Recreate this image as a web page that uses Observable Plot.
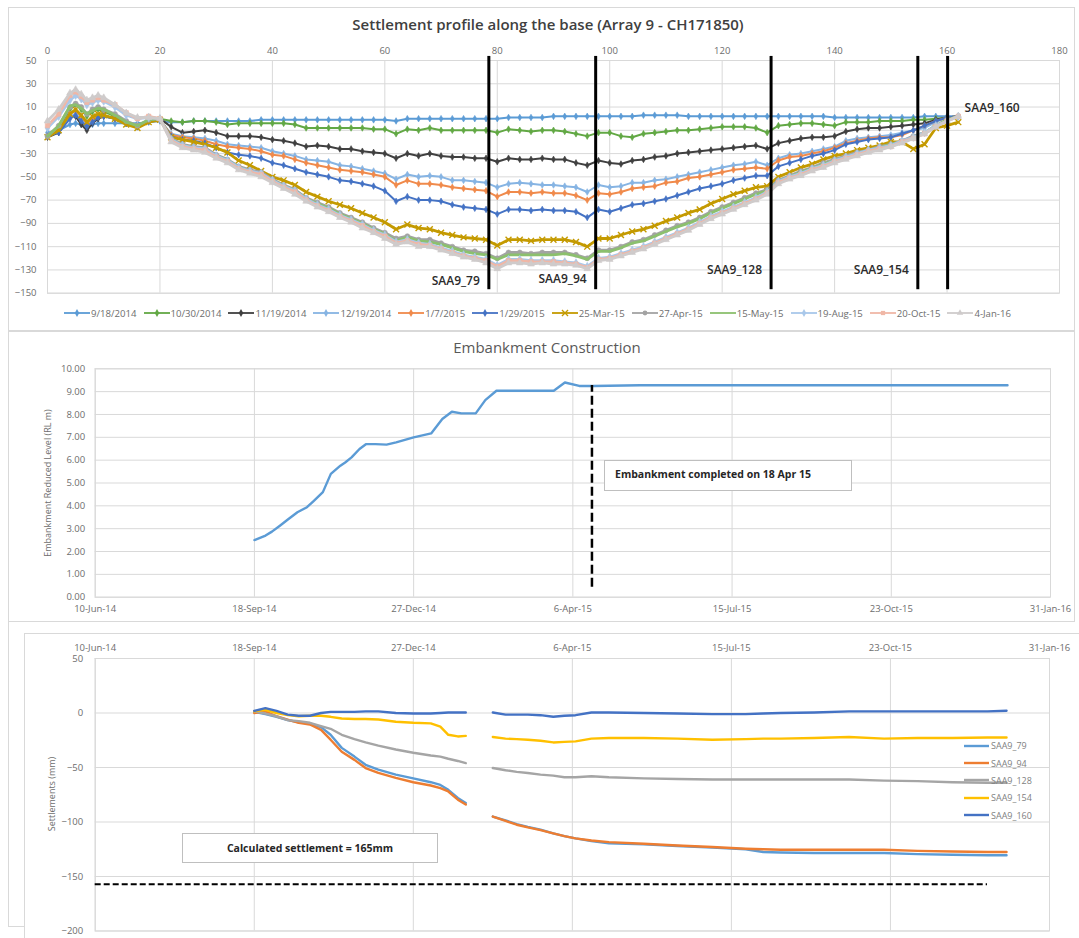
<!DOCTYPE html>
<html><head><meta charset="utf-8">
<script src="https://cdn.jsdelivr.net/npm/d3@7"></script>
<script src="https://cdn.jsdelivr.net/npm/@observablehq/plot@0.6"></script>
<style>
body{margin:0;background:#fff;}
#root{position:relative;width:1079px;height:938px;overflow:hidden;background:#fff;font-family:'Open Sans',sans-serif;}
.abs{position:absolute;}
.box{position:absolute;border:1px solid #d9d9d9;box-sizing:border-box;}
.ttl{position:absolute;text-align:center;white-space:nowrap;}
.ytitle{position:absolute;width:220px;height:12px;line-height:12px;font-size:9px;color:#6d6d6d;text-align:center;transform:rotate(-90deg);white-space:nowrap;}
.note{position:absolute;background:#fff;border:1px solid #bfbfbf;box-sizing:border-box;font-weight:700;color:#262626;white-space:nowrap;}
.leg{position:absolute;display:flex;align-items:center;font-size:9.6px;color:#6d6d6d;white-space:nowrap;}
.leg span{margin-left:1px;}
</style></head>
<body><div id="root">
<div class="box" style="left:8px;top:7px;width:1067px;height:324px"></div>
<div class="box" style="left:8px;top:331px;width:1067px;height:291px"></div>
<div class="abs" style="left:8px;top:622px;width:17px;height:305px;border-left:1px solid #d9d9d9;border-bottom:1px solid #d9d9d9;box-sizing:border-box"></div>
<div class="box" style="left:24px;top:633px;width:1070px;height:320px"></div>
<div id="p1" class="abs" style="left:0;top:0"></div>
<div id="p2" class="abs" style="left:0;top:330px"></div>
<div id="p3" class="abs" style="left:0;top:620px"></div>
<div class="ttl" style="left:248px;top:14px;width:600px;font-size:15px;font-weight:600;color:#404040">Settlement profile along the base (Array 9 - CH171850)</div>
<div id="leg1" class="leg" style="left:0;top:306px;width:1075px;height:14px;justify-content:center;gap:7px"></div>
<div class="ttl" style="left:247px;top:337px;width:600px;font-size:15px;color:#595959">Embankment Construction</div>
<div class="ytitle" style="left:-62px;top:477px">Embankment Reduced Level (RL m)</div>
<div class="note" style="left:604px;top:460px;width:248px;height:31px;font-size:10.5px;line-height:26px;padding-left:10px">Embankment completed on 18 Apr 15</div>
<div class="ytitle" style="left:-58px;top:788px">Settlements (mm)</div>
<div class="note" style="left:182px;top:833px;width:256px;height:30px;font-size:10.5px;line-height:28px;text-align:center">Calculated settlement = 165mm</div>
<div id="leg3" class="abs" style="left:964px;top:737px;width:110px"></div>
</div>
<script>
// ---------------- DATA ----------------
// Panel 1: settlement profile along the base (distance, mm)
const profileX = [0,2,4,5,6,7,8,9,10,12,14,16,18,20,22,24,26,28,30,32,34,36,38,40,42,44,46,48,50,52,54,56,58,60,62,64,66,68,70,72,74,76,78,80,82,84,86,88,90,92,94,96,98,100,102,104,106,108,110,112,114,116,118,120,122,124,126,128,130,132,134,136,138,140,142,144,146,148,150,152,154,156,158,160,162];
const p20140918 = [-12,-10,-5,-4,-5,-6,-5,-4,-4,-4,-4,-4,-3,-2,
 -3,-3,-2,-2,-2,-2,-2,-2,-1,-1, -1,-1,-1,-1,-1,-1,-1,-1,-1,-1, -2,0,0,0,0,0,0,0,0,0,
 1,1,1,1,2,2,2,2,2,2, 2,2,3,3,3,3,2,2,2,2, 2,2,2,2,2,2,2,2,2,1, 1,1,1,1,1,1,1,2,2,2, 2];
const p20141030 = [-15,-8,8,12,8,2,6,8,6,2,-4,-6,-2,0,
 -2,-3,-2,-2,-3,-5,-4,-4,-4,-4, -4,-5,-8,-8,-8,-8,-8,-8,-9,-9, -13,-9,-10,-8,-10,-10,-10,-10,-10,-12,
 -9,-10,-11,-10,-10,-11,-13,-15,-12,-12, -15,-16,-13,-12,-11,-10,-10,-9,-8,-7, -7,-7,-8,-12,-6,-5,-4,-4,-5,-6,
 -3,-3,-3,-2,-2,-2,-1,-1,0,1, 2];
const p20141119 = [-16,-12,2,2,-5,-10,-4,0,2,0,-4,-7,-2,0,
 -7,-12,-11,-10,-12,-15,-15,-15,-16,-18, -19,-21,-24,-23,-24,-26,-26,-28,-29,-30, -34,-30,-32,-30,-32,-33,-33,-34,-34,-37,
 -34,-35,-35,-34,-35,-35,-38,-40,-36,-38, -39,-36,-35,-33,-32,-30,-29,-28,-27,-26, -25,-24,-23,-26,-21,-19,-17,-16,-16,-15,
 -11,-9,-8,-8,-7,-6,-5,-4,-1,1, 2];
const p20141219 = [-14,-10,2,4,0,-5,-2,2,3,0,-4,-6,-2,-1,
 -13,-15,-16,-17,-19,-22,-23,-24,-25,-28, -30,-32,-35,-36,-37,-40,-41,-43,-45,-47, -52,-48,-50,-49,-50,-53,-53,-54,-55,-59,
 -56,-55,-56,-57,-57,-58,-59,-63,-57,-59, -58,-55,-55,-53,-52,-50,-48,-46,-44,-42, -40,-39,-37,-40,-34,-31,-30,-28,-26,-24,
 -19,-17,-16,-15,-14,-12,-10,-8,-3,1, 2];
const p20150107 = [-15,-10,4,7,2,-4,0,3,3,0,-4,-6,-2,-1,
 -14,-16,-17,-19,-22,-24,-25,-26,-28,-31, -32,-35,-38,-40,-42,-44,-45,-46,-48,-50, -57,-53,-56,-56,-57,-59,-60,-61,-62,-67,
 -63,-63,-64,-63,-64,-64,-66,-70,-64,-65, -63,-60,-59,-58,-55,-54,-51,-50,-48,-46, -44,-43,-42,-43,-36,-33,-32,-30,-28,-25,
 -21,-19,-17,-16,-16,-14,-10,-6,-2,1, 2];
const p20150129 = [-15,-12,0,3,-2,-7,-3,1,2,0,-4,-7,-2,-1,
 -15,-18,-19,-21,-25,-29,-31,-32,-34,-38, -40,-43,-46,-48,-50,-53,-54,-56,-58,-62, -71,-67,-70,-70,-71,-74,-76,-77,-78,-82,
 -78,-78,-79,-78,-79,-79,-80,-85,-78,-80, -77,-74,-73,-71,-69,-66,-63,-60,-58,-56, -53,-51,-49,-49,-41,-38,-35,-32,-30,-27,
 -22,-20,-18,-17,-16,-13,-10,-6,-2,1, 2];
const p20150325 = [-16,-10,4,8,3,-3,2,4,3,0,-5,-8,-3,-1,
 -16,-18,-20,-22,-25,-29,-36,-40,-45,-50, -53,-57,-63,-67,-71,-74,-77,-81,-85,-89, -95,-91,-94,-95,-98,-100,-102,-103,-104,-109,
 -104,-104,-105,-104,-104,-104,-106,-110,-103,-103, -100,-97,-95,-92,-88,-85,-81,-78,-73,-69, -65,-62,-59,-58,-50,-46,-42,-39,-35,-32,
 -30,-27,-25,-23,-20,-20,-26,-22,-8,-6, -3];
const p20150427 = [-15,-6,10,13,10,4,8,10,8,4,-2,-6,-1,0,
 -17,-22,-24,-25,-31,-35,-41,-44,-46,-52, -57,-61,-68,-72,-76,-81,-85,-89,-94,-98, -103,-101,-104,-104,-107,-110,-113,-114,-116,-120,
 -115,-115,-116,-115,-115,-115,-117,-120,-113,-113, -110,-106,-104,-100,-96,-92,-89,-85,-80,-76, -72,-68,-64,-61,-53,-49,-45,-42,-38,-35,
 -32,-29,-27,-24,-22,-19,-15,-12,-6,-1, 2];
const p20150515 = [-15,-6,11,12,9,4,7,9,8,3,-3,-6,-1,0,
 -18,-23,-25,-27,-32,-36,-42,-45,-48,-53, -58,-62,-69,-73,-77,-82,-86,-90,-95,-99, -105,-102,-105,-106,-108,-111,-114,-116,-117,-121,
 -117,-117,-117,-117,-117,-116,-118,-121,-114,-114, -111,-107,-105,-101,-97,-93,-90,-86,-81,-77, -73,-69,-65,-62,-54,-50,-46,-43,-39,-36,
 -33,-30,-27,-25,-22,-20,-16,-12,-6,-1, 2];
const p20150819 = [-8,2,16,20,17,12,14,16,15,10,3,0,1,0,
 -18,-23,-25,-26,-32,-36,-42,-45,-47,-53, -58,-62,-69,-74,-78,-83,-87,-91,-96,-100, -106,-104,-107,-108,-111,-114,-117,-119,-121,-126,
 -121,-121,-122,-122,-122,-123,-124,-127,-120,-119, -116,-113,-110,-106,-102,-98,-94,-89,-84,-80, -76,-72,-68,-63,-54,-50,-47,-43,-40,-36,
 -33,-30,-27,-25,-23,-19,-16,-12,-6,-2, 2];
const p20151020 = [-6,4,20,23,19,14,16,18,16,12,5,0,2,0,
 -19,-24,-26,-27,-33,-37,-43,-46,-48,-54, -59,-63,-70,-75,-79,-84,-88,-92,-97,-101, -107,-105,-108,-109,-112,-115,-118,-120,-122,-127,
 -122,-122,-123,-123,-123,-124,-125,-128,-121,-120, -117,-114,-111,-107,-103,-99,-95,-90,-85,-81, -77,-73,-69,-64,-55,-51,-48,-44,-41,-37,
 -34,-31,-28,-26,-24,-20,-17,-13,-7,-2, 2];
const p20160104 = [-2,8,22,25,21,16,18,20,18,12,5,1,1,0,
 -20,-25,-27,-29,-34,-38,-44,-47,-50,-55, -60,-65,-71,-76,-80,-85,-89,-94,-98,-103, -108,-106,-110,-110,-113,-116,-119,-121,-124,-129,
 -124,-124,-125,-124,-125,-125,-126,-129,-122,-121, -118,-115,-112,-108,-104,-100,-96,-91,-86,-82, -78,-74,-70,-65,-56,-52,-49,-45,-42,-38,
 -35,-32,-29,-27,-24,-21,-17,-13,-7,-2, 2];
const profileSeries = ["9/18/2014","10/30/2014","11/19/2014","12/19/2014","1/7/2015","1/29/2015","25-Mar-15","27-Apr-15","15-May-15","19-Aug-15","20-Oct-15","4-Jan-16"];
const profileTicksX = [0,20,40,60,80,100,120,140,160,180];
const profileTicksY = [-150,-130,-110,-90,-70,-50,-30,-10,10,30,50];
const sensorNames = ["SAA9_79","SAA9_94","SAA9_128","SAA9_154","SAA9_160"];
const sensorX = [78.5,97.5,128.7,154.8,160.1];

// Panel 2: embankment construction (date, RL m)
const embDates = ["2014-09-18","2014-09-25","2014-09-29","2014-10-04","2014-10-09","2014-10-15","2014-10-21","2014-10-25","2014-10-31","2014-11-05","2014-11-11","2014-11-14","2014-11-18","2014-11-23","2014-11-27","2014-12-03","2014-12-10","2014-12-16","2014-12-27","2015-01-07","2015-01-14","2015-01-20","2015-01-26","2015-02-04","2015-02-10","2015-02-17","2015-02-26","2015-03-15","2015-03-25","2015-04-01","2015-04-10","2015-04-19","2015-05-18","2016-01-04"];
const embLevel = [2.5,2.7,2.87,3.13,3.4,3.72,3.94,4.2,4.6,5.4,5.76,5.9,6.12,6.49,6.7,6.7,6.68,6.78,7.0,7.17,7.8,8.12,8.05,8.05,8.63,9.04,9.04,9.04,9.04,9.4,9.25,9.25,9.28,9.28];
const completionDate = "2015-04-18";
const dateTicks = ["2014-06-10","2014-09-18","2014-12-27","2015-04-06","2015-07-15","2015-10-23","2016-01-31"];
const levelTicks = [0,1,2,3,4,5,6,7,8,9,10];

// Panel 3: settlements at sensors (date, mm); null = no reading
const settleDates = ["2014-09-18","2014-09-25","2014-10-02","2014-10-09","2014-10-16","2014-10-23","2014-10-30","2014-11-05","2014-11-12","2014-11-20","2014-11-27","2014-12-05","2014-12-16","2014-12-27","2015-01-07","2015-01-13","2015-01-18","2015-01-24","2015-01-29","2015-02-07","2015-02-15","2015-02-23","2015-03-02","2015-03-09","2015-03-17","2015-03-25","2015-04-01","2015-04-08","2015-04-18","2015-04-29","2015-05-21","2015-06-11","2015-07-03","2015-07-24","2015-08-04","2015-08-15","2015-09-05","2015-09-27","2015-10-19","2015-11-09","2015-12-01","2015-12-23","2016-01-04"];
const saa79 = [1,-1,-3.5,-6.5,-8.5,-9.5,-13,-20,-32,-40,-47.5,-52,-56.5,-60,-63.5,-66,-70.5,-78,-82.5,null,-95,-98.5,-102,-104.5,-107,-110.5,-113,-115,-117.5,-119.5,-120.5,-122,-123.5,-125,-127.5,-128,-128.5,-128.5,-128.5,-129.5,-130,-130.5,-130.5];
const saa94 = [0,1.5,-3,-6,-9,-10.5,-15.5,-24.5,-35.5,-43,-50.5,-55,-59.5,-63.5,-66.5,-69,-72,-79.5,-84,null,-95,-99,-102.5,-105,-107.5,-110.5,-113,-115,-117,-118.5,-120,-121.5,-123,-124.5,-125,-125.5,-125.5,-125.5,-125.5,-126.5,-127,-127.5,-127.5];
const saa128 = [1.5,-0.5,-3,-6.5,-7.5,-9,-12,-14.5,-20,-24,-27,-30,-33.5,-36.5,-39,-40,-42,-44,-46,null,-50.5,-52.5,-54,-55,-56.5,-57.5,-59,-59,-58,-59,-60,-60.5,-61,-61,-61,-61,-61,-61,-62,-62.5,-63.5,-64,-64];
const saa154 = [1.5,3,0,-2,-3,-2.5,-2.5,-3.5,-5,-5.5,-5.5,-6,-8,-9,-9.5,-12.5,-20,-21.5,-21,null,-22,-23.5,-24,-24.5,-25.5,-27,-26.5,-26,-23.5,-23,-23,-23.5,-24.5,-24,-23.5,-23.5,-23,-22,-23.5,-23,-23,-22.5,-22.5];
const saa160 = [2,4.5,2,-1.5,-2.5,-2.5,0,1,1,1,1.5,1.5,0,-0.5,-0.5,0,0.5,0.5,0.5,null,0.5,-1.5,-1.5,-1.5,-2,-3.5,-2.5,-2,0.5,0.5,0,-0.5,-1,-1,-0.5,0,0.5,1.5,1.5,1.5,1.5,1.5,2];
const sensorSeries = ["SAA9_79","SAA9_94","SAA9_128","SAA9_154","SAA9_160"];
const calcLineDates = ["2014-06-10","2015-12-23"];
const calcSettlement = -157;
const settleTicks = [-200,-150,-100,-50,0,50];

// ---------------- STYLE ----------------
const FONT = "'Open Sans', sans-serif";
const GRID = "#d9d9d9";
const profileColors = ["#5B9BD5","#62A844","#404040","#86B4E3","#F08A4B","#4472C4","#C49A00","#A3A3A3","#8CC06E","#A9C8EA","#F0B7A6","#CFCBCB"];
const profileSymbols = ["diamond","diamond","diamond","diamond","diamond","diamond","times","circle",null,"diamond","square","triangle"];
const sensorColors = ["#5B9BD5","#ED7D31","#A5A5A5","#FFC000","#4472C4"];
const fmtDate = d3.utcFormat("%-d-%b-%y");
const P = s => new Date(s + "T00:00:00Z");

try {
// ---------------- PANEL 1 ----------------
const profileData = [p20140918,p20141030,p20141119,p20141219,p20150107,p20150129,p20150325,p20150427,p20150515,p20150819,p20151020,p20160104];
const m1 = [
  Plot.gridX(profileTicksX, {stroke: GRID, strokeOpacity: 1}),
  Plot.gridY(profileTicksY, {stroke: GRID, strokeOpacity: 1}),
  Plot.frame({stroke: GRID})
];
profileSeries.forEach((name, i) => {
  const rows = profileX.map((x, j) => ({x, v: profileData[i][j]}));
  const late = i >= 6;
  m1.push(Plot.line(rows, {x: "x", y: "v", stroke: profileColors[i], strokeWidth: late ? 2.8 : 2}));
  const sym = profileSymbols[i];
  if (sym === "times") m1.push(Plot.dot(rows, {x: "x", y: "v", symbol: sym, r: 2.8, stroke: profileColors[i], strokeWidth: 1.4}));
  else if (sym) m1.push(Plot.dot(rows, {x: "x", y: "v", symbol: sym, r: late ? 2.5 : 2, fill: profileColors[i], stroke: profileColors[i], strokeWidth: 0.6}));
});
const sensorRows = sensorNames.map((n, i) => ({name: n, x: sensorX[i]}));
const labelY = [-140, -138, -130.5, -130.5, 9];
m1.push(Plot.ruleX(sensorRows, {x: "x", y1: 53.5, y2: -147, stroke: "#000", strokeWidth: 3}));
m1.push(Plot.text(sensorRows.slice(0, 4), {x: "x", y: (d, i) => labelY[i], text: "name", textAnchor: "end", dx: -9, fontSize: 12, fontWeight: 600, fill: "#2b2b2b"}));
m1.push(Plot.text(sensorRows.slice(4), {x: "x", y: () => labelY[4], text: "name", textAnchor: "start", dx: 17, fontSize: 12, fontWeight: 600, fill: "#2b2b2b"}));
const c1 = Plot.plot({
  width: 1079, height: 300, marginLeft: 47, marginRight: 20, marginTop: 60, marginBottom: 7.3,
  x: {domain: [0, 180], ticks: profileTicksX, axis: "top", tickSize: 0, tickPadding: 7, label: null},
  y: {domain: [-150, 50], ticks: profileTicksY, tickSize: 0, tickPadding: 11, label: null},
  style: {fontFamily: FONT, fontSize: "9.5px", color: "#6d6d6d", background: "transparent", overflow: "visible"},
  marks: m1
});
document.getElementById("p1").append(c1);

// legend panel 1
const symMap = {diamond: d3.symbolDiamond, circle: d3.symbolCircle, times: d3.symbolTimes, square: d3.symbolSquare, triangle: d3.symbolTriangle};
const leg1 = document.getElementById("leg1");
profileSeries.forEach((name, i) => {
  const sym = profileSymbols[i];
  let mk = "";
  if (sym) {
    const path = d3.symbol(symMap[sym], sym === "times" ? 26 : 18)();
    mk = sym === "times"
      ? `<path d="${path}" transform="translate(13,5)" fill="none" stroke="${profileColors[i]}" stroke-width="1.3"/>`
      : `<path d="${path}" transform="translate(13,5)" fill="${profileColors[i]}"/>`;
  }
  const it = document.createElement("div");
  it.style.display = "flex"; it.style.alignItems = "center";
  it.innerHTML = `<svg width="26" height="10"><line x1="0" x2="26" y1="5" y2="5" stroke="${profileColors[i]}" stroke-width="1.8"/>${mk}</svg><span>${name}</span>`;
  leg1.append(it);
});

// ---------------- PANEL 2 ----------------
const embRows = embDates.map((d, i) => ({d: P(d), v: embLevel[i]}));
const c2 = Plot.plot({
  width: 1079, height: 290, marginLeft: 94.7, marginRight: 29, marginTop: 38.3, marginBottom: 23.3,
  x: {type: "utc", domain: [P(dateTicks[0]), P(dateTicks[dateTicks.length - 1])], ticks: dateTicks.map(P), tickFormat: fmtDate, tickSize: 0, tickPadding: 8, label: null},
  y: {domain: [0, 10], ticks: levelTicks, tickFormat: d3.format(".2f"), tickSize: 0, tickPadding: 10, label: null},
  style: {fontFamily: FONT, fontSize: "9.5px", color: "#6d6d6d", background: "transparent", overflow: "visible"},
  marks: [
    Plot.gridX(dateTicks.map(P), {stroke: GRID, strokeOpacity: 1}),
    Plot.gridY(levelTicks, {stroke: GRID, strokeOpacity: 1}),
    Plot.frame({stroke: GRID}),
    Plot.line(embRows, {x: "d", y: "v", stroke: "#5B9BD5", strokeWidth: 2.4}),
    Plot.ruleX([P(completionDate)], {y1: 0.44, y2: 9.27, stroke: "#000", strokeWidth: 2.5, strokeDasharray: "9,4"})
  ]
});
document.getElementById("p2").append(c2);

// ---------------- PANEL 3 ----------------
const sensorData = [saa79, saa94, saa128, saa154, saa160];
const m3 = [
  Plot.gridX(dateTicks.map(P), {stroke: GRID, strokeOpacity: 1}),
  Plot.gridY(settleTicks, {stroke: GRID, strokeOpacity: 1}),
  Plot.frame({stroke: GRID}),
  Plot.ruleY([calcSettlement], {x1: P(calcLineDates[0]), x2: P(calcLineDates[1]), stroke: "#000", strokeWidth: 2, strokeDasharray: "6,3"})
];
sensorSeries.forEach((name, i) => {
  const rows = settleDates.map((d, j) => ({d: P(d), v: sensorData[i][j]}));
  m3.push(Plot.line(rows, {x: "d", y: "v", stroke: sensorColors[i], strokeWidth: 2.4}));
});
const c3 = Plot.plot({
  width: 1079, height: 318, marginLeft: 94.7, marginRight: 30, marginTop: 38, marginBottom: 7.5,
  x: {type: "utc", domain: [P(dateTicks[0]), P(dateTicks[dateTicks.length - 1])], ticks: dateTicks.map(P), tickFormat: fmtDate, axis: "top", tickSize: 0, tickPadding: 8, label: null},
  y: {domain: [-200, 50], ticks: settleTicks, tickSize: 0, tickPadding: 12, label: null},
  style: {fontFamily: FONT, fontSize: "9.5px", color: "#6d6d6d", background: "transparent", overflow: "visible"},
  marks: m3
});
document.getElementById("p3").append(c3);

const leg3 = document.getElementById("leg3");
sensorSeries.forEach((name, i) => {
  const it = document.createElement("div");
  it.style.cssText = "display:flex;align-items:center;height:17.4px;font-size:9px;color:#7f7f7f";
  it.innerHTML = `<svg width="25" height="6"><line x1="0" x2="25" y1="3" y2="3" stroke="${sensorColors[i]}" stroke-width="2.4"/></svg><span style="margin-left:2px">${name}</span>`;
  leg3.append(it);
});
} catch (e) {
  document.body.insertAdjacentHTML("beforeend", `<pre style="color:red">${e.stack}</pre>`);
}
</script>
</body></html>
